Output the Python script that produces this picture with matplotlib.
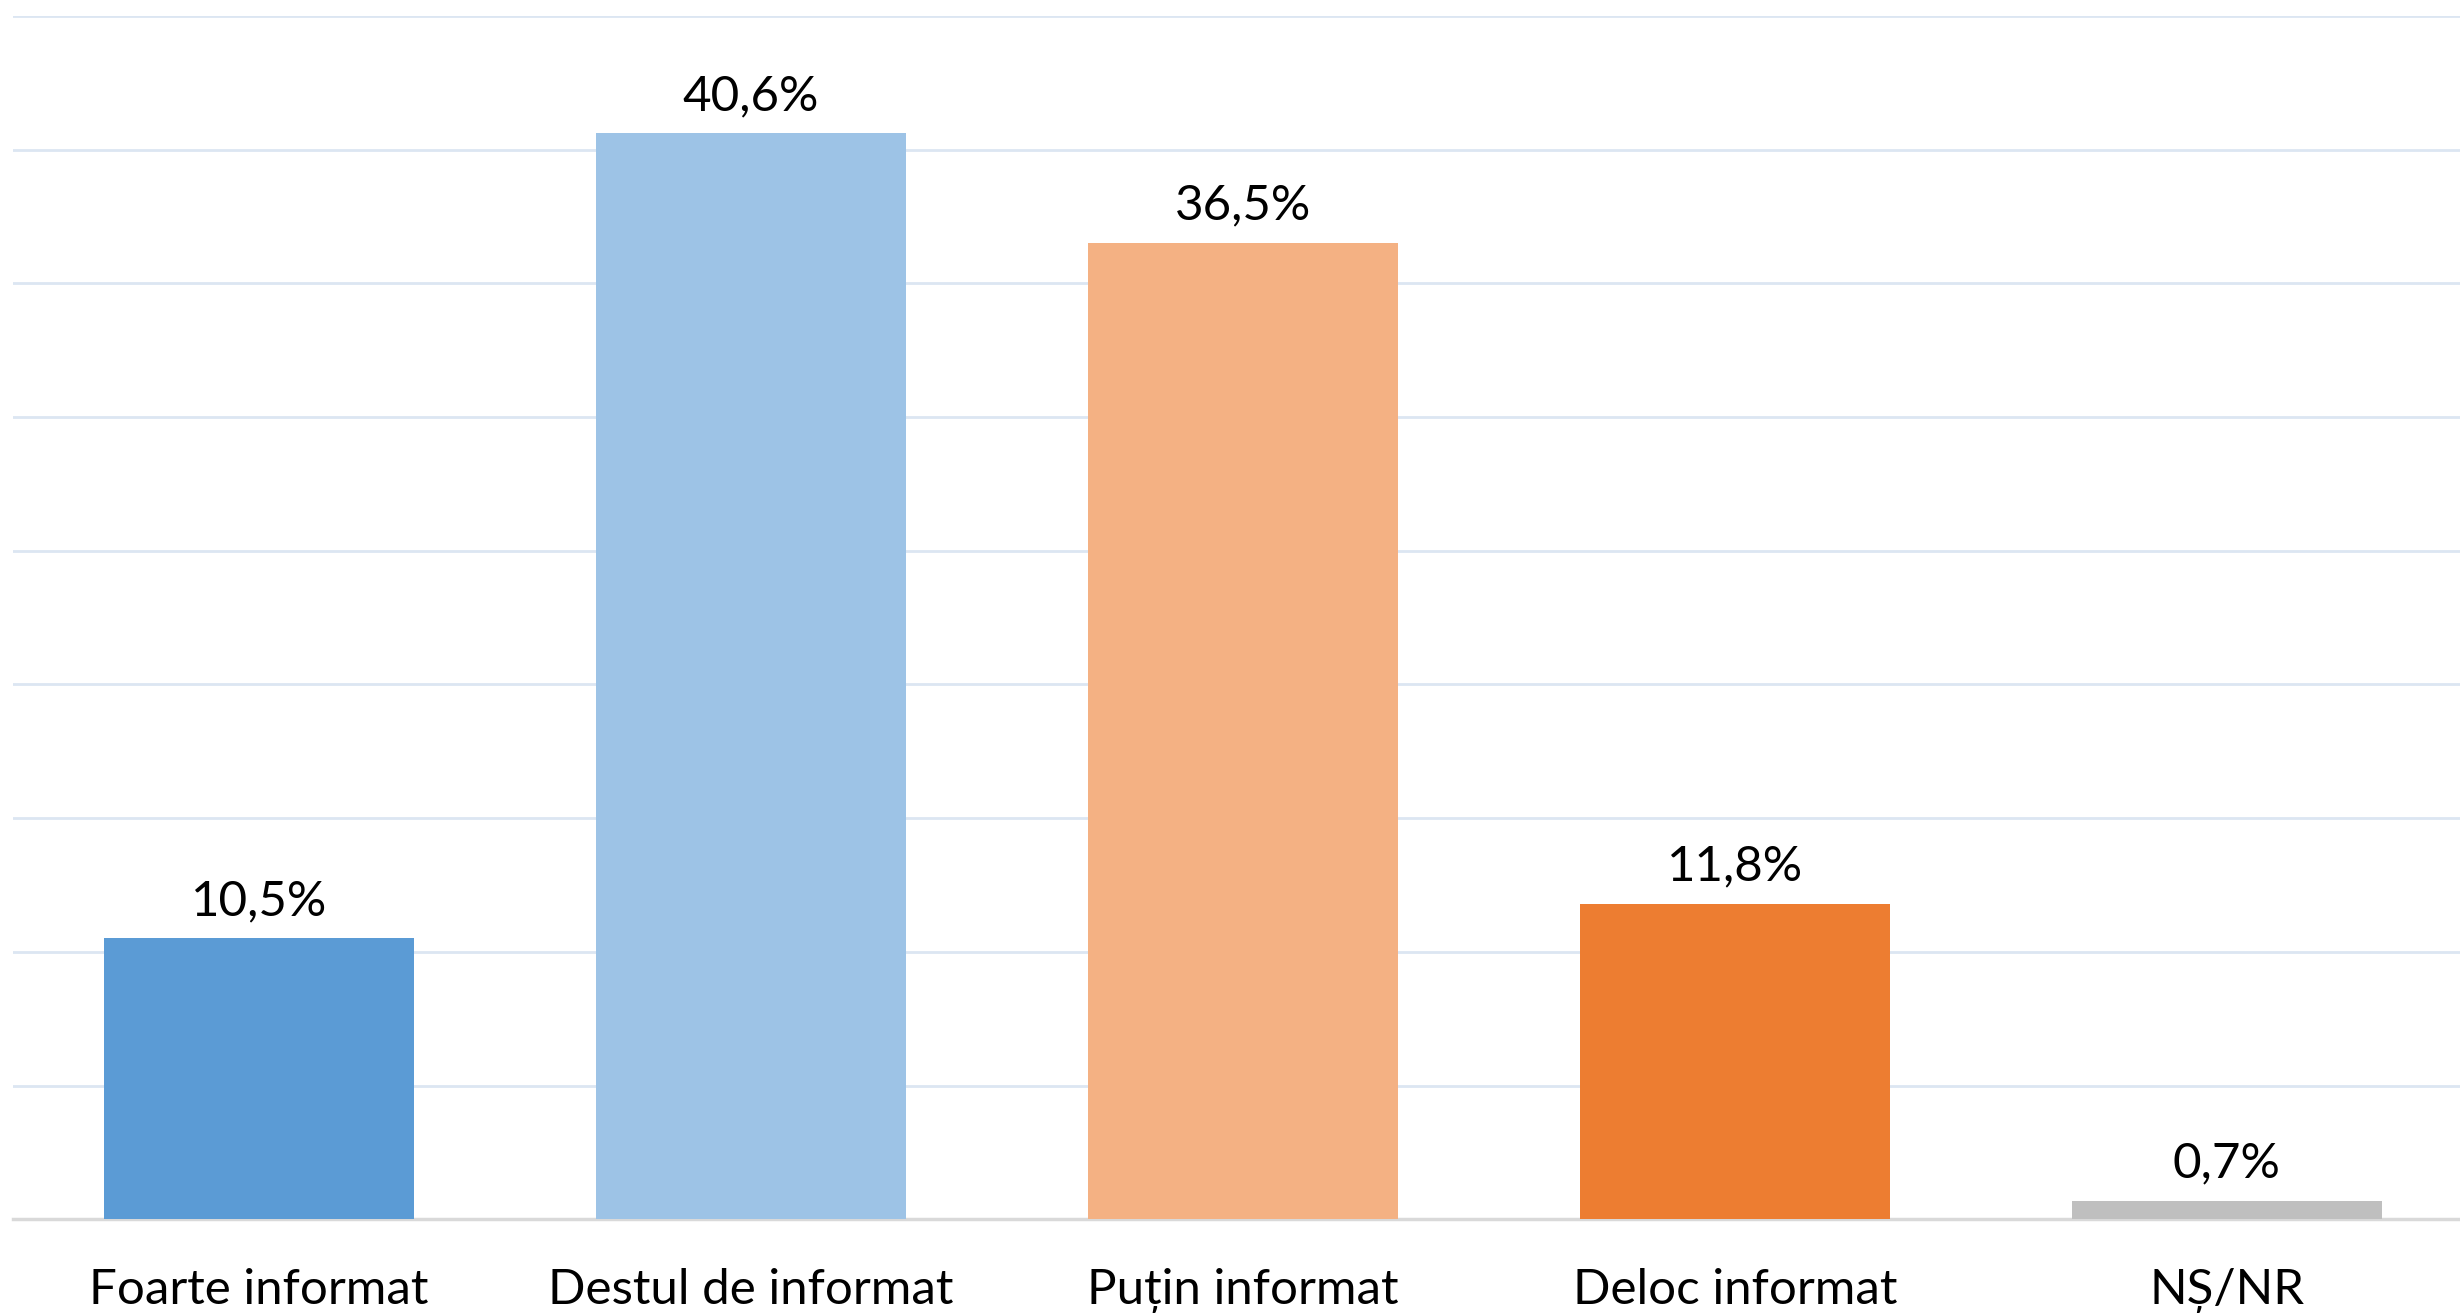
import numpy as np
import matplotlib.pyplot as plt

categories = ['Foarte informat', 'Destul de informat', 'Puțin informat', 'Deloc informat', 'NȘ/NR']
values = [10.5, 40.6, 36.5, 11.8, 0.7]
colors = ['#5B9BD5', '#9DC3E6', '#F4B183', '#ED7D31', '#BFBFBF']

plt.rcParams['font.family'] = ['Lato', 'DejaVu Sans']

fig = plt.figure(figsize=(24.6, 13.15), dpi=100)
ax = fig.add_axes([0.0052, 0.0728, 1.0, 0.9152])

x = np.arange(len(categories))
bars = ax.bar(x, values, width=0.63, color=colors, zorder=3)

for b, v in zip(bars, values):
    ax.annotate(f'{v:.1f}%'.replace('.', ','), (b.get_x() + b.get_width() / 2, v),
                xytext=(0, 11), textcoords='offset points', ha='center', va='bottom',
                fontsize=35.5, color='black')

ax.set_xlim(-0.5, 4.5)
ax.set_ylim(0, 45)
ax.set_yticks(np.arange(5, 46, 5))
ax.yaxis.grid(True, color='#DCE6F2', linewidth=2, zorder=0)
ax.tick_params(axis='y', left=False, labelleft=False)
ax.tick_params(axis='x', length=0, pad=35, labelsize=35.5)
ax.set_xticks(x)
ax.set_xticklabels(categories)

for s in ['top', 'right', 'left']:
    ax.spines[s].set_visible(False)
ax.spines['bottom'].set_color('#D9D9D9')
ax.spines['bottom'].set_linewidth(2.5)

fig.savefig('out.png', dpi=100)
